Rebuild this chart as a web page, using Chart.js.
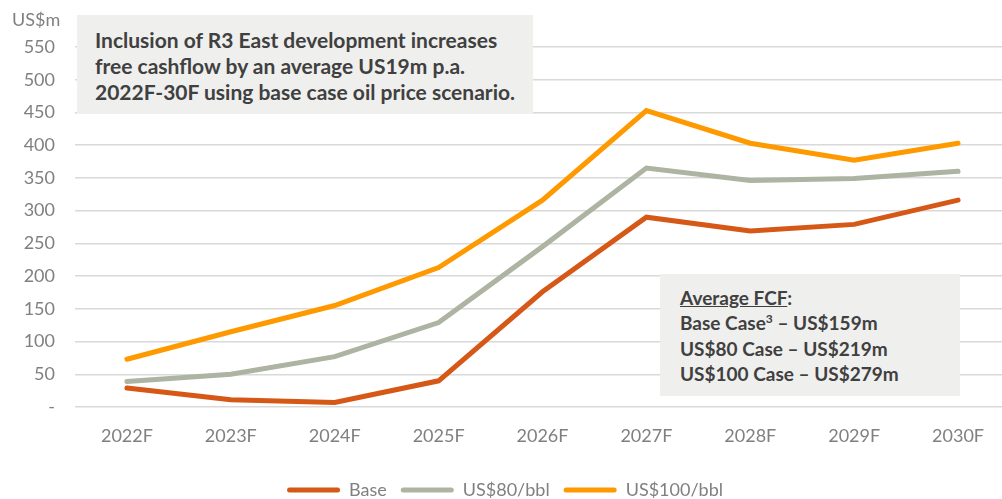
<!DOCTYPE html>
<html>
<head>
<meta charset="utf-8">
<script src="https://cdn.jsdelivr.net/npm/chart.js@4"></script>
<style>
  html, body { margin: 0; padding: 0; background: #fff; overflow: hidden; }
  #wrap { position: relative; width: 1010px; height: 499px; }
  .note {
    position: absolute;
    background: #efefee;
    color: #404040;
    font-family: Lato, sans-serif;
    font-weight: 700;
    box-sizing: border-box;
    white-space: nowrap;
  }
  #note1 { left: 77px; top: 15px; width: 456px; height: 99px; padding: 12px 0 0 18px; line-height: 26px; font-size: 21px; }
  #note2 { left: 660px; top: 274px; width: 300px; height: 122px; padding: 11px 0 0 20px; line-height: 25.3px; font-size: 19px; }
  #unit {
    position: absolute; left: 12px; top: 8px;
    font-family: Lato, sans-serif; font-size: 18px; color: #808080;
  }
  sup { font-size: 12px; line-height: 0; }
</style>
</head>
<body>
<div id="wrap">
  <canvas id="fcfChart"></canvas>
  <div id="unit">US$m</div>
  <div class="note" id="note1">Inclusion of R3 East development increases<br>free cashflow by an average US19m p.a.<br>2022F-30F using base case oil price scenario.</div>
  <div class="note" id="note2"><u>Average FCF</u>:<br>Base Case<sup>3</sup> – US$159m<br>US$80 Case – US$219m<br>US$100 Case – US$279m</div>
</div>
<script>
// Years on the x axis
const years = ["2022F", "2023F", "2024F", "2025F", "2026F", "2027F", "2028F", "2029F", "2030F"];

// Free cashflow by scenario (US$m)
const baseCase = [29, 11, 7, 40, 176, 290, 269, 279, 316];
const us80Case = [39, 50, 77, 129, 245, 365, 346, 349, 360];
const us100Case = [73, 115, 155, 213, 316, 453, 403, 377, 403];

// Series names and colours
const seriesNames = ["Base", "US$80/bbl", "US$100/bbl"];
const seriesColors = ["rgb(214, 88, 22)", "rgb(173, 180, 162)", "rgb(255, 153, 0)"];

const tickFont = { family: "Lato, sans-serif", size: 18 };

function makeDataset(label, data, color) {
  return {
    label: label,
    data: data,
    borderColor: color,
    backgroundColor: color,
    borderWidth: 5,
    borderCapStyle: "round",
    pointRadius: 0,
    tension: 0,
  };
}

const ctx = document.getElementById("fcfChart").getContext("2d");

new Chart(ctx, {
  type: "line",
  data: {
    labels: years,
    datasets: [
      makeDataset(seriesNames[0], baseCase, seriesColors[0]),
      makeDataset(seriesNames[1], us80Case, seriesColors[1]),
      makeDataset(seriesNames[2], us100Case, seriesColors[2]),
    ],
  },
  options: {
    responsive: true,
    maintainAspectRatio: false,
    animation: false,
    // negative bottom padding pushes the legend down to the canvas edge
    layout: { padding: { top: 47, bottom: -10, left: 0, right: 0 } },
    scales: {
      x: {
        offset: true,
        grid: { display: false },
        border: { display: false },
        ticks: { color: "#808080", font: tickFont, padding: 10, maxRotation: 0 },
        afterFit: (scale) => { scale.height = 60; },
      },
      y: {
        min: 0,
        max: 550,
        grid: { color: "#d9d9d9", lineWidth: 1.5, drawTicks: false },
        border: { display: false },
        ticks: {
          stepSize: 50,
          color: "#808080",
          font: tickFont,
          padding: 20,
          callback: (value) => (value === 0 ? "-" : value),
        },
        afterFit: (scale) => { scale.width = 75; },
      },
    },
    plugins: {
      tooltip: { enabled: false },
      legend: {
        position: "bottom",
        labels: {
          boxWidth: 53,
          boxHeight: 5,
          useBorderRadius: true,
          borderRadius: 2.5,
          padding: 14,
          color: "#808080",
          font: tickFont,
          generateLabels: (chart) =>
            Chart.defaults.plugins.legend.labels.generateLabels(chart).map((item) => ({
              ...item,
              lineWidth: 0,
              borderRadius: 2.5,
            })),
        },
      },
    },
  },
});
</script>
</body>
</html>
